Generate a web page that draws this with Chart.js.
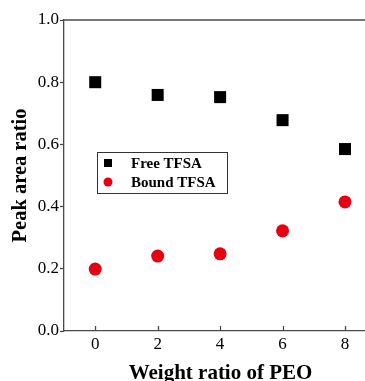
<!DOCTYPE html>
<html>
<head>
<meta charset="utf-8">
<script src="https://cdn.jsdelivr.net/npm/chart.js@4.4.1/dist/chart.umd.min.js"></script>
<style>
html,body{margin:0;padding:0;background:#fff;}
#wrap{width:365px;height:381px;position:relative;}
</style>
</head>
<body>
<div id="wrap"><canvas id="c" width="365" height="381"></canvas></div>
<script>
const weightRatio = [0, 2, 4, 6, 8];
const freeTFSA = [0.800, 0.759, 0.752, 0.678, 0.585];
const boundTFSA = [0.199, 0.241, 0.248, 0.322, 0.415];
const xTicks = [0, 2, 4, 6, 8];
const yTicks = [0.0, 0.2, 0.4, 0.6, 0.8, 1.0];
const seriesNames = ['Free TFSA', 'Bound TFSA'];
const xTitle = 'Weight ratio of PEO';
const yTitle = 'Peak area ratio';

const RED = '#e60012';
const AXIS = '#4a4a4a';
const SERIF = '"Liberation Serif", "Times New Roman", serif';

const extraPlugin = {
  id: 'extras',
  afterDraw(chart) {
    const ctx = chart.ctx;
    const a = chart.chartArea;
    const xs = chart.scales.x;
    ctx.save();
    ctx.strokeStyle = AXIS;
    ctx.lineWidth = 1.3;
    ctx.beginPath();
    ctx.moveTo(a.left, a.top);
    ctx.lineTo(a.right, a.top);
    ctx.stroke();
    xTicks.forEach(v => {
      const px = Math.round(xs.getPixelForValue(v)) + 0.5;
      ctx.beginPath();
      ctx.moveTo(px, a.bottom);
      ctx.lineTo(px, a.bottom - 5);
      ctx.stroke();
    });
    // x axis title (centred on the original, wider plot frame)
    ctx.fillStyle = '#000';
    ctx.font = 'bold 21px ' + SERIF;
    ctx.textAlign = 'center';
    ctx.textBaseline = 'alphabetic';
    ctx.fillText(xTitle, a.left + (a.right - a.left) / 2 + 6, 379);
    // legend
    const bx = 97, by = 152, bw = 130, bh = 41;
    ctx.lineWidth = 1;
    ctx.strokeStyle = '#333';
    ctx.strokeRect(bx + 0.5, by + 0.5, bw, bh);
    ctx.font = 'bold 15px ' + SERIF;
    ctx.textBaseline = 'middle';
    ctx.textAlign = 'left';
    chart.data.datasets.forEach((ds, i) => {
      const cy = by + 11 + i * 19;
      ctx.fillStyle = ds.backgroundColor;
      if (ds.pointStyle === 'rect') {
        ctx.fillRect(108 - 4, cy - 4, 8, 8);
      } else {
        ctx.beginPath();
        ctx.arc(108, cy, 4.5, 0, Math.PI * 2);
        ctx.fill();
      }
      ctx.fillStyle = '#000';
      ctx.fillText(ds.label, 131, cy + 1);
    });
    ctx.restore();
  }
};

new Chart(document.getElementById('c'), {
  type: 'scatter',
  data: {
    datasets: [
      {
        label: seriesNames[0],
        data: weightRatio.map((x, i) => ({x: x, y: freeTFSA[i]})),
        pointStyle: 'rect',
        pointRadius: 8.5,
        pointHoverRadius: 8.5,
        backgroundColor: '#000',
        borderColor: '#000',
        borderWidth: 0
      },
      {
        label: seriesNames[1],
        data: weightRatio.map((x, i) => ({x: x, y: boundTFSA[i]})),
        pointStyle: 'circle',
        pointRadius: 6.5,
        pointHoverRadius: 6.5,
        backgroundColor: RED,
        borderColor: RED,
        borderWidth: 0
      }
    ]
  },
  options: {
    responsive: false,
    animation: false,
    layout: {autoPadding: false, padding: {top: 20, right: 0, bottom: 0, left: 0}},
    plugins: {legend: {display: false}, tooltip: {enabled: false}},
    scales: {
      x: {
        type: 'linear',
        min: -1,
        max: 8.64,
        afterBuildTicks(s) { s.ticks = xTicks.map(v => ({value: v})); },
        afterFit(s) { s.height = 50; s.paddingRight = 0; s.paddingLeft = 0; },
        grid: {display: true, drawOnChartArea: false, drawTicks: false, color: AXIS},
        border: {display: true, color: AXIS, width: 1.3},
        ticks: {
          color: '#000',
          font: {family: SERIF, size: 17},
          padding: 3,
          maxRotation: 0,
          callback: v => String(v)
        },
        title: {display: false, text: xTitle}
      },
      y: {
        type: 'linear',
        min: 0,
        max: 1,
        afterBuildTicks(s) { s.ticks = yTicks.map(v => ({value: v})); },
        afterFit(s) { s.width = 64; s.paddingTop = 0; s.paddingBottom = 0; },
        grid: {display: true, drawOnChartArea: false, drawTicks: true, tickLength: 4, color: AXIS, tickWidth: 1.3},
        border: {display: true, color: AXIS, width: 1.3},
        ticks: {
          color: '#000',
          font: {family: SERIF, size: 17},
          padding: 1,
          callback: v => Number(v).toFixed(1)
        },
        title: {
          display: true,
          text: yTitle,
          color: '#000',
          font: {family: SERIF, size: 20.5, weight: 'bold', lineHeight: 1},
          padding: {top: 10, bottom: 0}
        }
      }
    }
  },
  plugins: [extraPlugin]
});
</script>
</body>
</html>
